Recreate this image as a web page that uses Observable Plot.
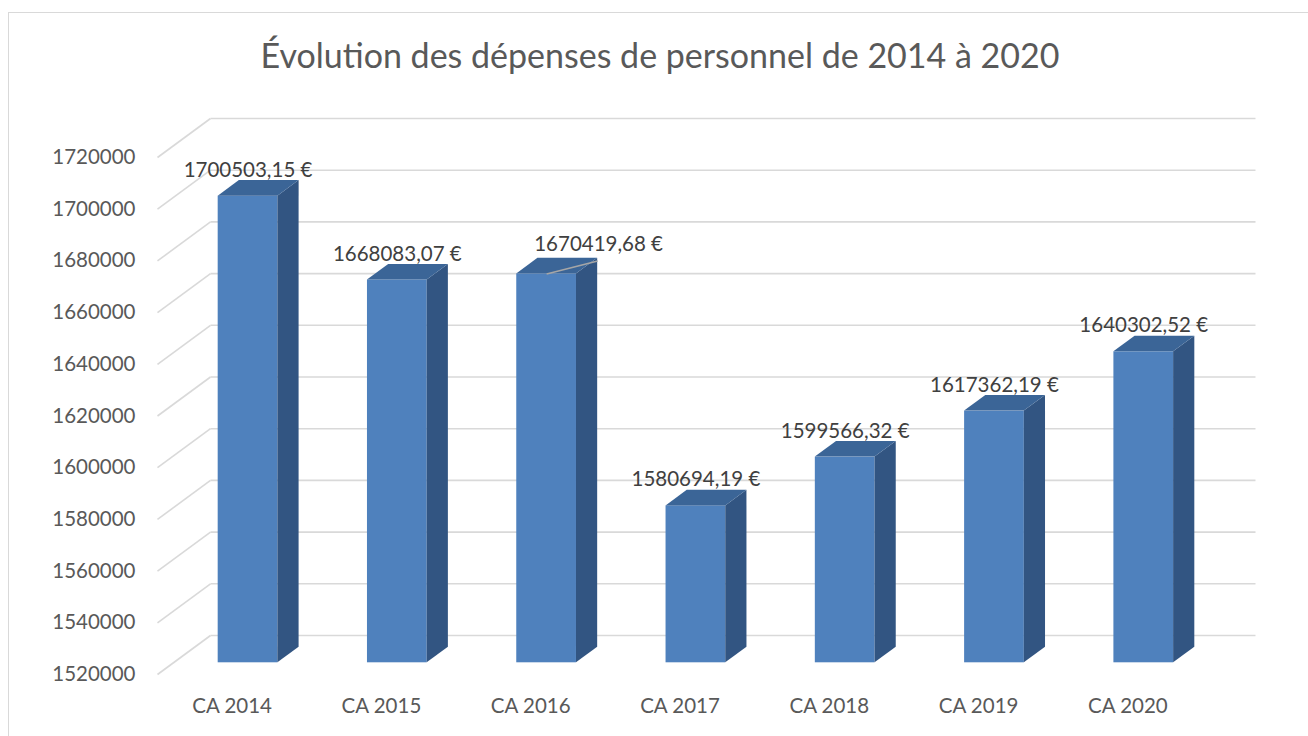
<!DOCTYPE html>
<html>
<head>
<meta charset="utf-8">
<script src="https://cdn.jsdelivr.net/npm/d3@7"></script>
<script src="https://cdn.jsdelivr.net/npm/@observablehq/plot@0.6"></script>
<style>
  html, body { margin: 0; padding: 0; background: #fff; }
  #wrap { position: relative; width: 1308px; height: 736px; overflow: hidden; font-family: Lato, "Open Sans", sans-serif; }
  #frame { position: absolute; left: 8px; top: 12px; width: 1400px; height: 800px; border: 1.5px solid #d9d9d9; box-sizing: border-box; }
  #title { position: absolute; left: 12px; width: 1296px; top: 34px; text-align: center; font-size: 34px; color: #595959; font-family: Lato, sans-serif; }
  #chart { position: absolute; left: 0; top: 0; }
</style>
</head>
<body>
<div id="wrap">
  <div id="frame"></div>
  <div id="title">Évolution des dépenses de personnel de 2014 à 2020</div>
  <div id="chart"></div>
</div>
<script>
const categories = ["CA 2014", "CA 2015", "CA 2016", "CA 2017", "CA 2018", "CA 2019", "CA 2020"];
const values = [1700503.15, 1668083.07, 1670419.68, 1580694.19, 1599566.32, 1617362.19, 1640302.52];
const labels = ["1700503,15 €", "1668083,07 €", "1670419,68 €", "1580694,19 €", "1599566,32 €", "1617362,19 €", "1640302,52 €"];
const yTicks = d3.range(1520000, 1720001, 20000);

// 3D depth expressed in data units (x: category units, y: value units)
const depthX = 0.355;
const depthY = 15090;
const base = 1520000;
const f0 = 0.3, f1 = 0.7; // bar front/back depth fractions
const b0 = 0.3, b1 = 0.7; // bar left/right within the band

const bars = values.map((v, i) => ({i, cat: categories[i], v, label: labels[i]}));

const sideFaces = bars.flatMap(d => [
  {i: d.i, x: d.i + b1 + f0 * depthX, y1: base + f0 * depthY, y2: d.v + f0 * depthY},
  {i: d.i, x: d.i + b1 + f1 * depthX, y1: base + f1 * depthY, y2: d.v + f1 * depthY}
]);
const topFaces = bars.flatMap(d => [
  {i: d.i, y: d.v + f0 * depthY, x1: d.i + b0 + f0 * depthX, x2: d.i + b1 + f0 * depthX},
  {i: d.i, y: d.v + f1 * depthY, x1: d.i + b0 + f1 * depthX, x2: d.i + b1 + f1 * depthX}
]);

const moved = 2; // the label that Excel displaced, with its leader line
const leader = [{
  x1: moved + 0.5 + f0 * depthX, y1: values[moved] + f0 * depthY,
  x2: moved + 0.5 + f0 * depthX + 0.342, y2: values[moved] + f0 * depthY + 5000
}];

const chart = Plot.plot({
  width: 1308,
  height: 736,
  marginLeft: 157,
  marginRight: 106,
  marginTop: 157,
  marginBottom: 62,
  style: {fontFamily: "Lato, sans-serif", fontSize: "20.5px", color: "#595959", background: "transparent"},
  x: {domain: [0, 7], label: null},
  y: {domain: [base, 1720000], label: null},
  marks: [
    // back wall gridlines
    Plot.link(yTicks, {x1: () => depthX, x2: () => 7 + depthX, y1: d => d + depthY, y2: d => d + depthY, stroke: "#d9d9d9", strokeWidth: 1.6}),
    // side wall gridlines
    Plot.link(yTicks, {x1: () => 0, x2: () => depthX, y1: d => d, y2: d => d + depthY, stroke: "#d9d9d9", strokeWidth: 1.6}),
    // bars: front, side, top
    Plot.rect(bars, {x1: d => d.i + b0 + f0 * depthX, x2: d => d.i + b1 + f0 * depthX, y1: () => base + f0 * depthY, y2: d => d.v + f0 * depthY, fill: "#4f81bd", insetTop: 0, insetBottom: 0, insetLeft: 0, insetRight: 0}),
    Plot.areaY(sideFaces, {x: "x", y1: "y1", y2: "y2", z: "i", fill: "#325582", curve: "linear"}),
    Plot.areaX(topFaces, {y: "y", x1: "x1", x2: "x2", z: "i", fill: "#3b6597", curve: "linear"}),
    // leader line
    Plot.link(leader, {x1: "x1", y1: "y1", x2: "x2", y2: "y2", stroke: "#a6a6a6", strokeWidth: 1.5}),
    // data labels
    Plot.text(bars, {x: d => d.i + 0.5 + f0 * depthX, y: d => d.v + f0 * depthY, text: "label", dy: -26,
      fill: "#404040", fontSize: 20.5, filter: d => d.i !== moved}),
    Plot.text(bars, {x: d => d.i + 0.5 + f0 * depthX, y: d => d.v + f0 * depthY, text: "label", dy: -30, dx: 52,
      fill: "#404040", fontSize: 20.5, filter: d => d.i === moved}),
    // axes
    Plot.axisY({ticks: yTicks, tickFormat: d => String(d), tickSize: 0, tickPadding: 22, fill: "#595959", label: null}),
    Plot.axisX({ticks: d3.range(7).map(i => i + 0.5), tickFormat: d => categories[Math.floor(d)], tickSize: 0, tickPadding: 24, fill: "#595959", label: null})
  ]
});
document.getElementById("chart").appendChild(chart);
</script>
</body>
</html>
